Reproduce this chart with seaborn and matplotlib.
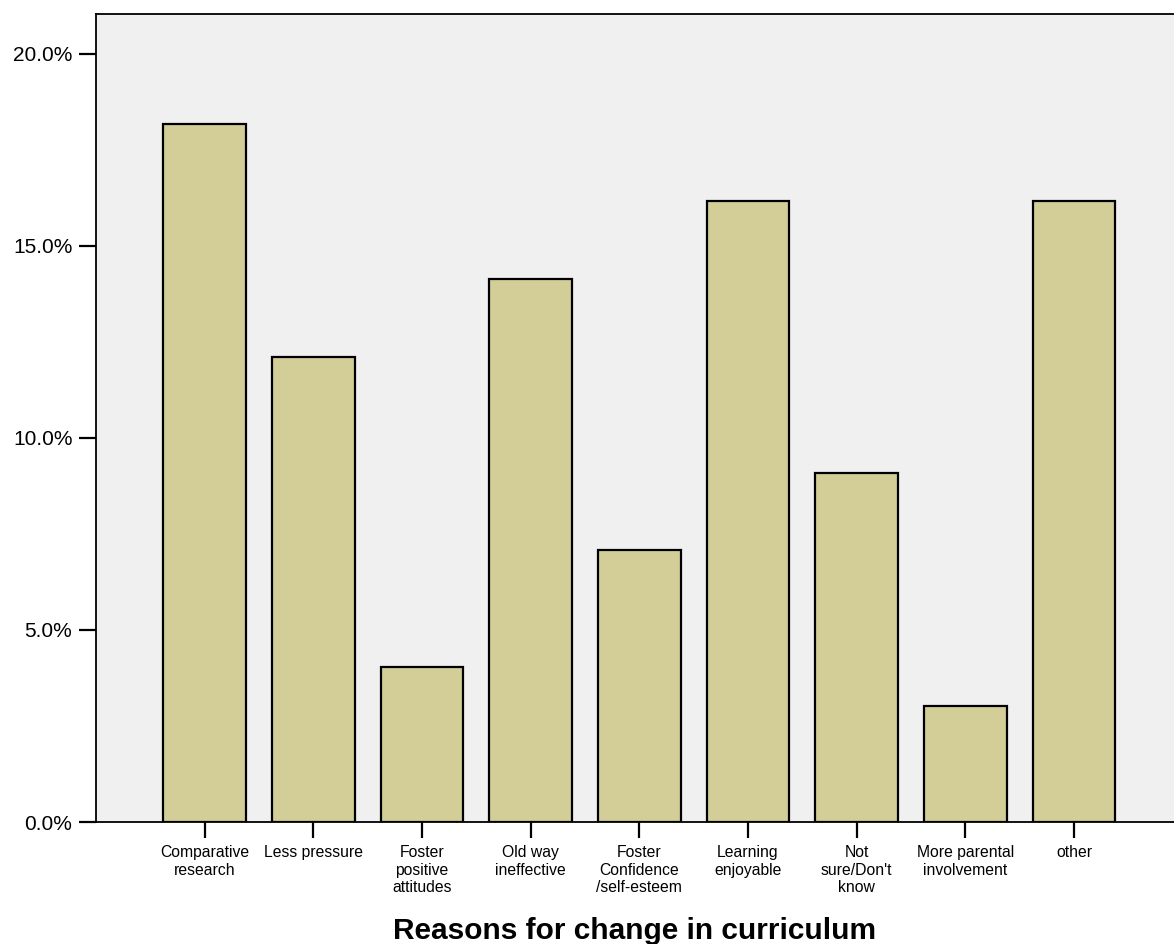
import matplotlib
matplotlib.use("Agg")
import matplotlib.pyplot as plt
import seaborn as sns
import pandas as pd
from matplotlib.ticker import FuncFormatter

# Reasons for change in curriculum (percent of respondents)
reasons = [
    "Comparative\nresearch",
    "Less pressure",
    "Foster\npositive\nattitudes",
    "Old way\nineffective",
    "Foster\nConfidence\n/self-esteem",
    "Learning\nenjoyable",
    "Not\nsure/Don't\nknow",
    "More parental\ninvolvement",
    "other",
]
percents = [18.18, 12.12, 4.04, 14.14, 7.07, 16.16, 9.09, 3.03, 16.16]
y_ticks = [0, 5, 10, 15, 20]

df = pd.DataFrame({"reason": reasons, "percent": percents})

sns.set_style("ticks")
plt.rcParams["font.family"] = ["Liberation Sans", "DejaVu Sans"]

fig = plt.figure(figsize=(11.74, 9.44), dpi=100)
ax = fig.add_axes([96 / 1174, 1 - 822 / 944, 1 - 96 / 1174, (822 - 14) / 944])
ax.set_facecolor("#f0f0f0")

sns.barplot(data=df, x="reason", y="percent", color="#d3ce98", saturation=1,
            edgecolor="black", linewidth=1.6, width=0.76, ax=ax)

ax.set_xlim(-1, 8.92)
ax.set_ylim(0, 21.04)
ax.set_yticks(y_ticks)
ax.yaxis.set_major_formatter(FuncFormatter(lambda v, p: f"{v:.1f}%"))

for side in ["left", "bottom", "top"]:
    ax.spines[side].set_visible(True)
    ax.spines[side].set_linewidth(1.3)
    ax.spines[side].set_color("black")
ax.spines["right"].set_visible(False)

ax.tick_params(axis="y", length=12, width=1.6, pad=5, labelsize=15, colors="black")
ax.tick_params(axis="x", length=11.5, width=1.6, pad=5, labelsize=11.3, colors="black")
for lbl in ax.get_xticklabels():
    lbl.set_horizontalalignment("center")
    lbl.set_multialignment("center")
    lbl.set_linespacing(1.22)

ax.set_ylabel("")
ax.set_xlabel("Reasons for change in curriculum", fontsize=21.5, fontweight="bold",
              color="black", va="baseline")
ax.xaxis.set_label_coords(0.5, (822 - 939) / 808)

fig.savefig("out.png", dpi=100)
